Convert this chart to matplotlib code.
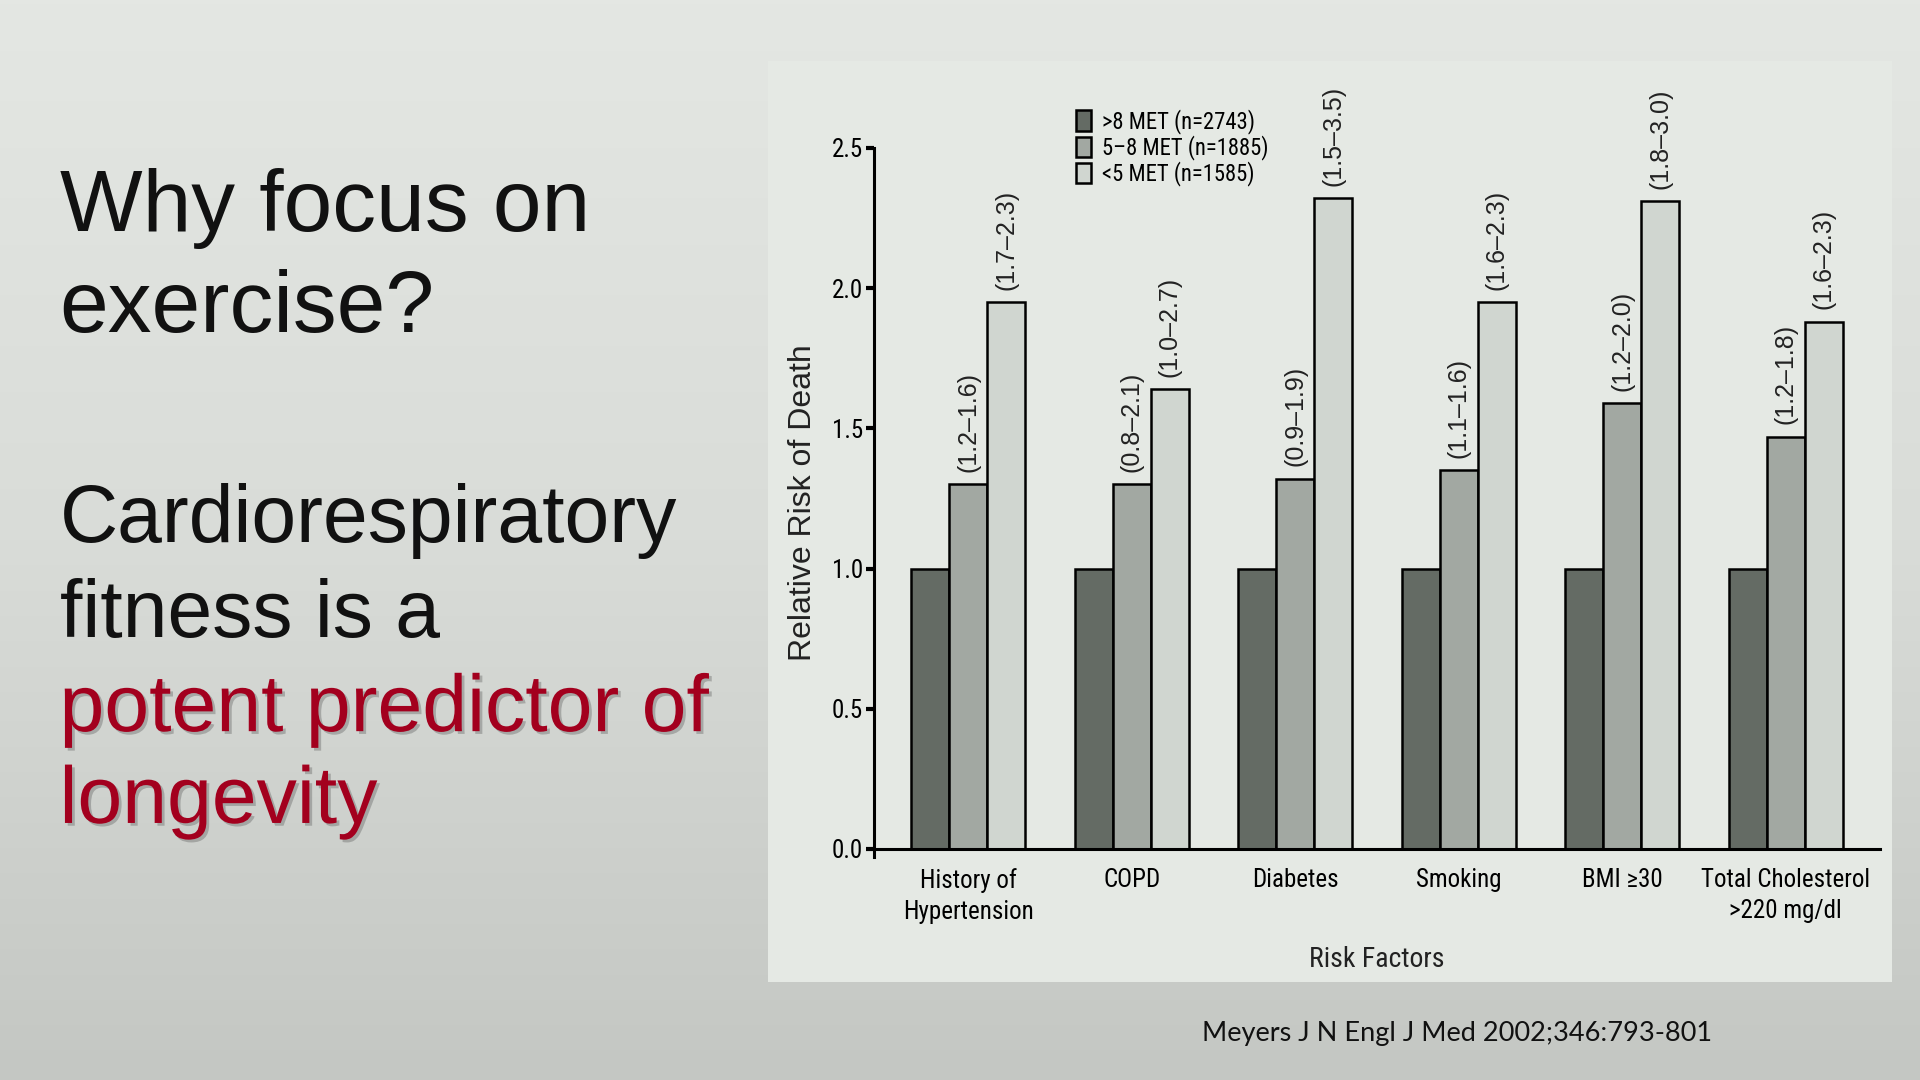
import numpy as np
import matplotlib.pyplot as plt
import matplotlib.patheffects as pe
from matplotlib import font_manager as fm
from matplotlib.colors import LinearSegmentedColormap
from matplotlib.patches import Rectangle

# data (Myers et al., relative risk of death)
risk_factors = ['History of\nHypertension', 'COPD', 'Diabetes', 'Smoking',
                'BMI \u226530', 'Total Cholesterol\n>220 mg/dl']
high_fit = [1.0, 1.0, 1.0, 1.0, 1.0, 1.0]
mid_fit = [1.30, 1.30, 1.32, 1.35, 1.59, 1.47]
low_fit = [1.95, 1.64, 2.32, 1.95, 2.31, 1.88]
mid_ci = ['(1.2\u20131.6)', '(0.8\u20132.1)', '(0.9\u20131.9)',
          '(1.1\u20131.6)', '(1.2\u20132.0)', '(1.2\u20131.8)']
low_ci = ['(1.7\u20132.3)', '(1.0\u20132.7)', '(1.5\u20133.5)',
          '(1.6\u20132.3)', '(1.8\u20133.0)', '(1.6\u20132.3)']
series_labels = ['>8 MET (n=2743)', '5\u20138 MET (n=1885)', '<5 MET (n=1585)']
yticks = [0.0, 0.5, 1.0, 1.5, 2.0, 2.5]

# pick a narrow font for the figure's own labels
installed = {f.name for f in fm.fontManager.ttflist}
has_cond = any(f.name == 'DejaVu Sans' and 'condensed' in str(f.stretch) for f in fm.fontManager.ttflist)
if 'Liberation Sans Narrow' in installed:
    narrow = dict(family='Liberation Sans Narrow', stretch='normal')
    nscale = 1.0
elif 'Roboto Condensed' in installed:
    narrow = dict(family='Roboto Condensed', stretch='normal')
    nscale = 1.0
elif has_cond:
    narrow = dict(family='DejaVu Sans', stretch='condensed')
    nscale = 1.0
else:
    narrow = dict(family='Roboto', stretch='normal')
    nscale = 0.9

sans = ['Liberation Sans', 'DejaVu Sans']

fig = plt.figure(figsize=(19.2, 10.8), dpi=100)

# slide background gradient
bg = fig.add_axes([0, 0, 1, 1], zorder=-10)
grad = np.linspace(0, 1, 256).reshape(-1, 1)
bg.imshow(grad, aspect='auto', extent=[0, 1, 0, 1],
          cmap=LinearSegmentedColormap.from_list('slide', ['#e4e7e3', '#d9dcd8', '#c4c7c3']))
bg.axis('off')

# chart panel
fig.patches.append(Rectangle((0.4, 0.0907), 0.5854, 0.8528, transform=fig.transFigure,
                             facecolor='#e5e9e4', edgecolor='none', zorder=-5))

# left text
fig.text(0.031, 0.786, 'Why focus on', fontsize=63, family=sans, color='#111111')
fig.text(0.031, 0.693, 'exercise?', fontsize=63, family=sans, color='#111111')
tsize = 58
fig.text(0.031, 0.498, 'Cardiorespiratory', fontsize=tsize, family=sans, color='#111111')
fig.text(0.031, 0.410, 'fitness is a', fontsize=tsize, family=sans, color='#111111')
shadow = [pe.withSimplePatchShadow(offset=(2, -2), shadow_rgbFace='#555555', alpha=0.35)]
fig.text(0.031, 0.323, 'potent predictor of', fontsize=tsize, family=sans, color='#a3001e',
         path_effects=shadow)
fig.text(0.031, 0.238, 'longevity', fontsize=tsize, family=sans, color='#a3001e',
         path_effects=shadow)

fig.text(0.626, 0.036, 'Meyers J N Engl J Med 2002;346:793-801', fontsize=19.5,
         family=['Lato', 'Open Sans', 'DejaVu Sans'], color='#111111')

ax = fig.add_axes([0.4552, 0.2061, 0.524, 0.6569])
ax.set_facecolor('none')

x = np.arange(len(risk_factors))
w = 0.2324
colors = ['#646b64', '#a2a8a2', '#d0d6d0']
b1 = ax.bar(x - w, high_fit, w, color=colors[0], edgecolor='black', linewidth=1.8, label=series_labels[0])
b2 = ax.bar(x, mid_fit, w, color=colors[1], edgecolor='black', linewidth=1.8, label=series_labels[1])
b3 = ax.bar(x + w, low_fit, w, color=colors[2], edgecolor='black', linewidth=1.8, label=series_labels[2])

for i in range(len(x)):
    ax.annotate(mid_ci[i], (x[i], mid_fit[i]), xytext=(0, 9), textcoords='offset points',
                rotation=90, ha='center', va='bottom', fontsize=18, family=sans, color='#222222')
    ax.annotate(low_ci[i], (x[i] + w, low_fit[i]), xytext=(0, 9), textcoords='offset points',
                rotation=90, ha='center', va='bottom', fontsize=18, family=sans, color='#222222')

ax.set_xlim(-0.577, 5.577)
ax.set_ylim(-0.03, 2.5)
ax.spines['top'].set_visible(False)
ax.spines['right'].set_visible(False)
ax.spines['bottom'].set_position(('data', 0))
ax.spines['left'].set_linewidth(2.2)
ax.spines['bottom'].set_linewidth(2.2)

ax.set_yticks(yticks)
ax.set_yticklabels([f'{v:.1f}' for v in yticks], fontsize=18 * nscale, **narrow)
ax.tick_params(axis='y', length=6, width=3, pad=2)
ax.set_xticks(x)
ax.set_xticklabels(risk_factors, fontsize=18 * nscale, linespacing=1.35, **narrow)
ax.tick_params(axis='x', length=0, pad=14)

ax.set_ylabel('Relative Risk of Death', family=sans, fontsize=23, color='#222222', labelpad=10)
ax.set_xlabel('Risk Factors', fontsize=20 * nscale, color='#222222', labelpad=16, **narrow)

leg = ax.legend(handles=[b1, b2, b3], loc='upper left', bbox_to_anchor=(0.550, 0.918),
                bbox_transform=fig.transFigure, frameon=False, handlelength=0.65,
                handleheight=1.0, handletextpad=0.5, labelspacing=0.05,
                prop=fm.FontProperties(size=16.3 * nscale, **narrow))

fig.savefig('out.png', dpi=100)
